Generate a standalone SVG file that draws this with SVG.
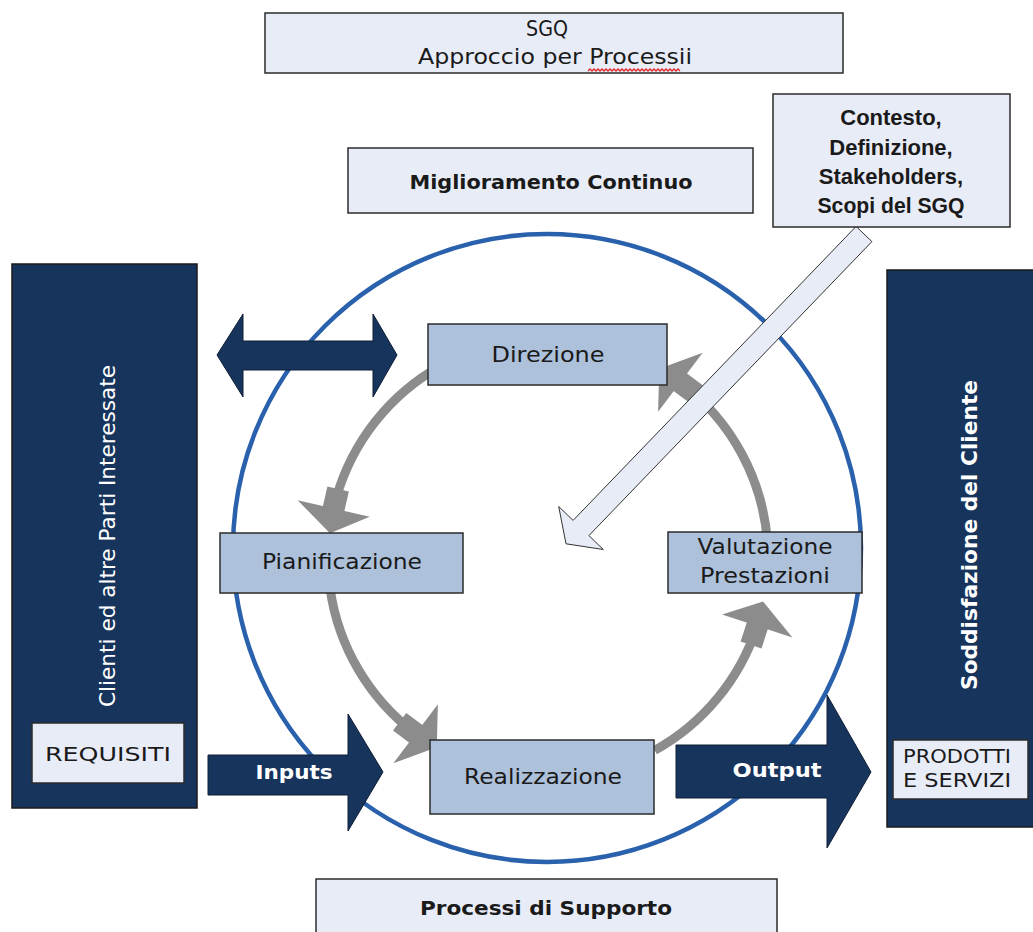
<svg xmlns="http://www.w3.org/2000/svg" width="1033" height="932" viewBox="0 0 1033 932">
<defs>
<style>
.lt{fill:#e8ecf7;stroke:#2b2b2b;stroke-width:1.5}
.pr{fill:#adc1da;stroke:#2b2b2b;stroke-width:1.5}
.nv{fill:#17345d;stroke:#1a1a1a;stroke-width:1.5}
.na{fill:#17345d;stroke:#0e1e36;stroke-width:1}
.t{font-family:"DejaVu Sans","Liberation Sans",sans-serif;fill:#1a1a1a;text-anchor:middle}
.b{font-weight:bold}
.w{fill:#ffffff}
.st{text-anchor:start}
.cal{font-family:"Liberation Sans",Arial,sans-serif;font-weight:bold;font-size:22px;fill:#1a1a1a;text-anchor:middle}
.cyc{fill:none;stroke:#8c8c8c;stroke-width:9}
</style>
<!-- arrowhead of the PDCA cycle, drawn at angle 0 of the cycle circle (centre 548,558, r 220) -->
<g id="gh" fill="#8c8c8c">
<rect x="757" y="556" width="22" height="22"/>
<polygon points="731,558 805,558 766,533"/>
</g>
</defs>

<rect width="1033" height="932" fill="#ffffff"/>

<!-- organisation boundary -->
<g id="ring">
<circle cx="547" cy="548" r="314" fill="none" stroke="#2a61ad" stroke-width="4.5"/>
</g>

<g id="connectors">
<!-- PDCA cycle -->
<g id="cycle">
<path class="cyc" d="M431.4,371.4 A220,220 0 0 0 333.6,508.5"/>
<use href="#gh" transform="rotate(-167 548 558)"/>
<path class="cyc" d="M330.1,588.6 A220,220 0 0 0 415.6,733.7"/>
<use href="#gh" transform="rotate(127 548 558)"/>
<path class="cyc" d="M654.7,750.4 A220,220 0 0 0 757.2,626"/>
<use href="#gh" transform="rotate(18 548 558)"/>
<path class="cyc" d="M767.5,542.6 A220,220 0 0 0 680.4,382.3"/>
<use href="#gh" transform="rotate(-53 548 558)"/>
</g>
<!-- exchange with interested parties -->
<polygon id="exchange" class="na" points="217,355 243,314 243,341 373,341 373,314 397,355 373,397 373,370 243,370 243,397"/>
<g id="inputs">
<polygon class="na" points="208,755 348,755 348,714 383,772 348,831 348,795 208,795"/>
<text class="t b w" x="294" y="779" font-size="20" textLength="77" lengthAdjust="spacingAndGlyphs">Inputs</text>
</g>
<g id="output">
<polygon class="na" points="676,745 827,745 827,695 871,772 827,848 827,798 676,798"/>
<text class="t b w" x="777" y="777" font-size="20" textLength="89" lengthAdjust="spacingAndGlyphs">Output</text>
</g>
<!-- context input -->
<polygon id="context-arrow" fill="#e8ecf7" stroke="#333333" stroke-width="1" points="856.1,226.4 871.9,241.6 588.9,535.6 603.3,549.5 566,543.8 558.7,506.5 573.1,520.4"/>
</g>

<g id="sgq">
<rect class="lt" x="265" y="13" width="578" height="60"/>
<text class="t" x="547" y="36" font-size="21" textLength="42" lengthAdjust="spacingAndGlyphs">SGQ</text>
<text class="t" x="555" y="64" font-size="21" textLength="274" lengthAdjust="spacingAndGlyphs">Approccio per Processii</text>
<path d="M588 71l2-2 2 2 2-2 2 2 2-2 2 2 2-2 2 2 2-2 2 2 2-2 2 2 2-2 2 2 2-2 2 2 2-2 2 2 2-2 2 2 2-2 2 2 2-2 2 2 2-2 2 2 2-2 2 2 2-2 2 2 2-2 2 2 2-2 2 2 2-2 2 2 2-2 2 2 2-2 2 2 2-2 2 2 2-2 2 2 2-2 2 2" fill="none" stroke="#e0282a" stroke-width="1.3"/>
</g>

<g id="miglioramento">
<rect class="lt" x="348" y="148" width="405" height="65"/>
<text class="t b" x="551" y="189" font-size="20" textLength="283" lengthAdjust="spacingAndGlyphs">Miglioramento Continuo</text>
</g>

<g id="contesto">
<rect class="lt" x="773" y="94" width="237" height="133"/>
<text class="cal" x="891" y="125">Contesto,</text>
<text class="cal" x="891" y="155">Definizione,</text>
<text class="cal" x="891" y="184">Stakeholders,</text>
<text class="cal" x="891" y="213" textLength="147" lengthAdjust="spacingAndGlyphs">Scopi del SGQ</text>
</g>

<g id="clienti">
<rect class="nv" x="12" y="264" width="185" height="544"/>
<text class="t w" transform="translate(115,536) rotate(-90)" font-size="21" textLength="342" lengthAdjust="spacingAndGlyphs">Clienti ed altre Parti Interessate</text>
</g>
<g id="requisiti">
<rect class="lt" x="32" y="723" width="152" height="60"/>
<text class="t" x="108" y="761" font-size="20" textLength="126" lengthAdjust="spacingAndGlyphs">REQUISITI</text>
</g>

<g id="soddisfazione">
<rect class="nv" x="887" y="270" width="150" height="557"/>
<text class="t w b" transform="translate(977,535) rotate(-90)" font-size="22" textLength="310" lengthAdjust="spacingAndGlyphs">Soddisfazione del Cliente</text>
</g>
<g id="prodotti">
<rect class="lt" x="893" y="740" width="135" height="59"/>
<text class="t st" x="903" y="763" font-size="20" textLength="108" lengthAdjust="spacingAndGlyphs">PRODOTTI</text>
<text class="t st" x="903" y="787" font-size="20" textLength="108" lengthAdjust="spacingAndGlyphs">E SERVIZI</text>
</g>

<g id="direzione">
<rect class="pr" x="428" y="324" width="239" height="61"/>
<text class="t" x="548" y="362" font-size="22" textLength="113" lengthAdjust="spacingAndGlyphs">Direzione</text>
</g>
<g id="pianificazione">
<rect class="pr" x="220" y="533" width="243" height="60"/>
<text class="t" x="342" y="569" font-size="22" textLength="160" lengthAdjust="spacingAndGlyphs">Pianificazione</text>
</g>
<g id="valutazione">
<rect class="pr" x="668" y="532" width="194" height="61"/>
<text class="t" x="765" y="554" font-size="22" textLength="135" lengthAdjust="spacingAndGlyphs">Valutazione</text>
<text class="t" x="765" y="583" font-size="22" textLength="130" lengthAdjust="spacingAndGlyphs">Prestazioni</text>
</g>
<g id="realizzazione">
<rect class="pr" x="430" y="740" width="224" height="74"/>
<text class="t" x="543" y="784" font-size="22" textLength="158" lengthAdjust="spacingAndGlyphs">Realizzazione</text>
</g>

<g id="supporto">
<rect class="lt" x="316" y="879" width="461" height="60"/>
<text class="t b" x="546" y="915" font-size="20" textLength="252" lengthAdjust="spacingAndGlyphs">Processi di Supporto</text>
</g>
</svg>
